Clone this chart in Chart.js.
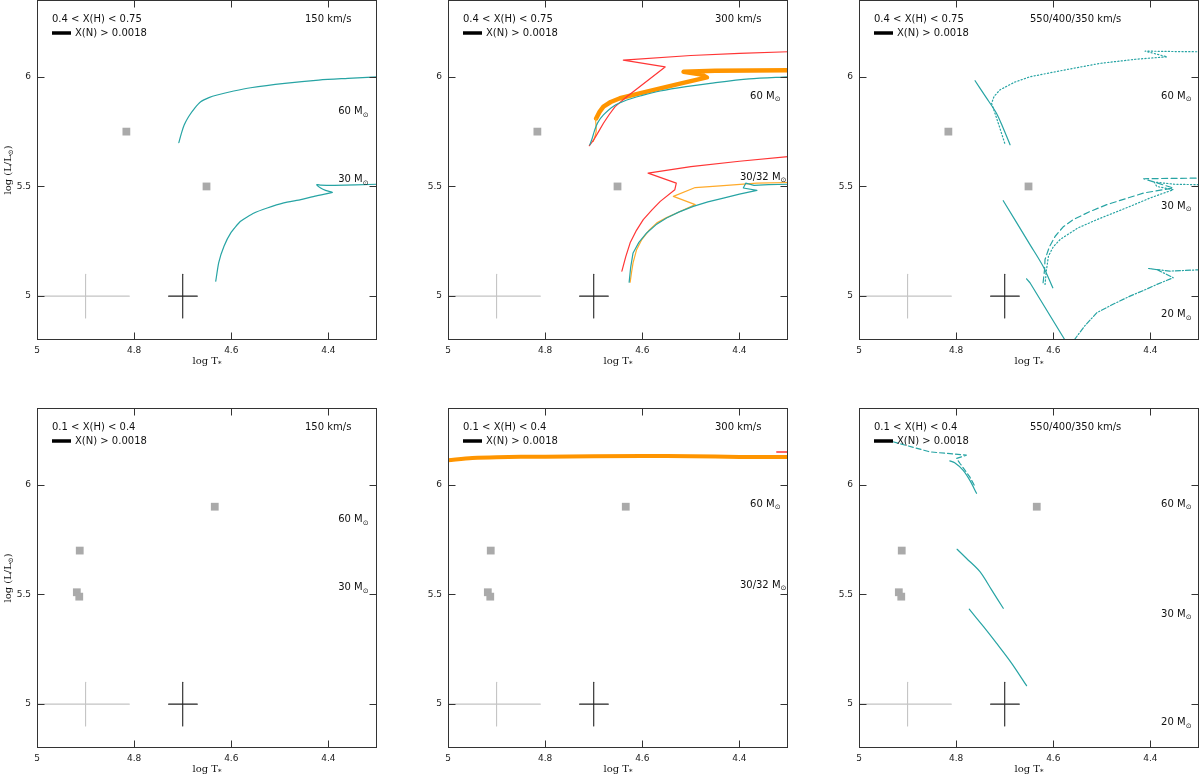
<!DOCTYPE html>
<html>
<head>
<meta charset="utf-8">
<script src="https://cdn.jsdelivr.net/npm/chart.js@4.4.1/dist/chart.umd.min.js"></script>
<style>
  html, body { margin: 0; padding: 0; background: #fff; overflow: hidden; width: 1200px; height: 774px; }
  canvas { position: absolute; }
</style>
</head>
<body>
<canvas id="p0" width="385" height="404"></canvas>
<canvas id="p1" width="385" height="404"></canvas>
<canvas id="p2" width="385" height="404"></canvas>
<canvas id="p3" width="385" height="404"></canvas>
<canvas id="p4" width="385" height="404"></canvas>
<canvas id="p5" width="385" height="404"></canvas>
<script>
"use strict";

// axis labels
const tempTickValues = [5, 4.8, 4.6, 4.4];
const tempTickLabels = ['5', '4.8', '4.6', '4.4'];
const lumTickValues = [5, 5.5, 6];
const lumTickLabels = ['5', '5.5', '6'];

// observed stars  [log T, log L]
const starsRich = [[4.816, 5.75], [4.651, 5.50]];
const starsPoor = [[4.634, 5.90], [4.912, 5.70], [4.918, 5.51], [4.913, 5.49]];

// error crosses
const errCentre = [[4.9, 5.0], [4.7, 5.0]];
const errTspan = [[5.0, 4.81], [4.729, 4.67]];
const errLspan = [[4.9, 5.1], [4.9, 5.1]];

// 150 km/s tracks
const t150m60 = [[4.708, 5.70], [4.703, 5.74], [4.697, 5.78], [4.688, 5.818], [4.676, 5.855], [4.663, 5.886],
  [4.646, 5.905], [4.629, 5.917], [4.595, 5.935], [4.56, 5.95], [4.49, 5.97], [4.42, 5.985], [4.36, 5.993], [4.3, 6.0]];
const t150m30 = [[4.632, 5.068], [4.626, 5.152], [4.615, 5.227], [4.601, 5.288], [4.581, 5.341], [4.553, 5.379],
  [4.526, 5.402], [4.492, 5.425], [4.457, 5.44], [4.423, 5.458], [4.392, 5.473], [4.406, 5.482], [4.416, 5.493],
  [4.424, 5.508], [4.416, 5.506], [4.388, 5.505], [4.3, 5.51]];

// 300 km/s tracks, 0.4 < X(H) < 0.75
const t300m60teal = [[4.708, 5.69], [4.703, 5.72], [4.699, 5.75], [4.692, 5.79], [4.680, 5.826], [4.66, 5.865],
  [4.632, 5.894], [4.6, 5.915], [4.563, 5.935], [4.51, 5.955], [4.46, 5.97], [4.38, 5.99], [4.3, 6.0]];
const t300m60red = [[4.709, 5.686], [4.70, 5.712], [4.69, 5.75], [4.680, 5.788], [4.668, 5.828], [4.656, 5.864],
  [4.632, 5.909], [4.553, 6.045], [4.639, 6.076], [4.5, 6.097], [4.4, 6.107], [4.3, 6.114]];
const t300m60orange = [[4.701, 5.705], [4.695, 5.75], [4.696, 5.803], [4.695, 5.81]];
const t300m60nitro = [[4.695, 5.81], [4.688, 5.84], [4.68, 5.864], [4.665, 5.885], [4.646, 5.902], [4.61, 5.922],
  [4.563, 5.947], [4.52, 5.97], [4.467, 5.997], [4.478, 6.01], [4.515, 6.023], [4.45, 6.027], [4.3, 6.03]];
const t300m30red = [[4.642, 5.114], [4.634, 5.18], [4.625, 5.243], [4.612, 5.30], [4.598, 5.349], [4.58, 5.393],
  [4.563, 5.432], [4.533, 5.485], [4.530, 5.515], [4.588, 5.561], [4.5, 5.59], [4.4, 5.615], [4.3, 5.636]];
const t300m32orange = [[4.625, 5.064], [4.622, 5.11], [4.619, 5.152], [4.612, 5.21], [4.601, 5.258],
  [4.587, 5.298], [4.570, 5.334], [4.55, 5.358], [4.529, 5.379], [4.51, 5.398], [4.491, 5.417], [4.536, 5.455],
  [4.491, 5.495], [4.44, 5.503], [4.364, 5.515], [4.3, 5.518]];
const t300m30teal = [[4.627, 5.064], [4.624, 5.13], [4.619, 5.197], [4.607, 5.245], [4.591, 5.288], [4.572, 5.325],
  [4.55, 5.356], [4.525, 5.383], [4.495, 5.409], [4.465, 5.43], [4.433, 5.447], [4.40, 5.465], [4.364, 5.482],
  [4.392, 5.493], [4.387, 5.515], [4.37, 5.505], [4.34, 5.508], [4.3, 5.51]];

// 550/400/350 km/s tracks, 0.4 < X(H) < 0.75
const tFastM60solid = [[4.761, 5.982], [4.739, 5.908], [4.717, 5.834], [4.703, 5.765], [4.689, 5.69]];
const tFastM60dot = [[4.70, 5.697], [4.712, 5.78], [4.727, 5.879], [4.722, 5.91], [4.71, 5.94], [4.68, 5.975],
  [4.648, 6.0], [4.579, 6.03], [4.504, 6.061], [4.43, 6.08], [4.366, 6.091], [4.411, 6.117], [4.35, 6.115], [4.3, 6.114]];
const tFastM30solid = [[4.703, 5.435], [4.648, 5.235], [4.621, 5.136], [4.601, 5.038]];
const tFastM30dash = [[4.621, 5.061], [4.618, 5.12], [4.617, 5.167], [4.608, 5.225], [4.596, 5.273], [4.58, 5.315],
  [4.559, 5.349], [4.525, 5.385], [4.49, 5.417], [4.45, 5.445], [4.414, 5.47], [4.353, 5.493], [4.414, 5.535],
  [4.35, 5.537], [4.3, 5.538]];
const tFastM30dot = [[4.617, 5.053], [4.614, 5.12], [4.61, 5.182], [4.6, 5.225], [4.586, 5.258], [4.55, 5.31],
  [4.51, 5.349], [4.475, 5.38], [4.442, 5.409], [4.40, 5.448], [4.353, 5.485], [4.387, 5.50], [4.392, 5.52],
  [4.35, 5.51], [4.3, 5.508]];
const tFastM20solid = [[4.655, 5.079], [4.648, 5.061], [4.576, 4.80]];
const tFastM20dashdot = [[4.557, 4.80], [4.535, 4.865], [4.51, 4.925], [4.475, 4.965], [4.442, 5.0], [4.41, 5.03],
  [4.387, 5.053], [4.353, 5.084], [4.373, 5.106], [4.387, 5.121], [4.404, 5.126], [4.36, 5.114], [4.3, 5.12]];

// 0.1 < X(H) < 0.4
const t300m60nitroPoor = [[5.0, 6.112], [4.95, 6.122], [4.9, 6.126], [4.8, 6.128], [4.6, 6.131], [4.5, 6.13],
  [4.4, 6.127], [4.3, 6.127]];
const t300m60redPoor = [[4.323, 6.149], [4.3, 6.149]];
const tFastM60dashPoor = [[4.93, 6.196], [4.854, 6.15], [4.779, 6.135], [4.799, 6.12], [4.792, 6.097],
  [4.772, 6.036], [4.761, 5.991]];
const tFastM60solidPoor = [[4.813, 6.109], [4.803, 6.10], [4.786, 6.067], [4.772, 6.021], [4.758, 5.961]];
const tFastM30solidPoor = [[4.798, 5.706], [4.779, 5.665], [4.751, 5.604], [4.727, 5.521], [4.703, 5.437]];
const tFastM20solidPoor = [[4.773, 5.433], [4.744, 5.354], [4.717, 5.278], [4.686, 5.187], [4.655, 5.084]];

const TEAL = '#27a4a4';
const RED = '#ff3535';
const ORANGE = '#ffaa2a';
const ORANGE_N = '#ff9500';
const FONT = 'DejaVu Sans';
const DOT = [1.2, 2.2];

function track(pts, color, width, dash, tension) {
  return {
    data: pts.map(([x, y]) => ({ x, y })),
    showLine: true, borderColor: color, borderWidth: width, borderDash: dash || [],
    pointRadius: 0, tension: tension === undefined ? 0.3 : tension, fill: false,
    borderCapStyle: 'round', borderJoinStyle: 'round'
  };
}

function stars(pts) {
  return {
    data: pts.map(([x, y]) => ({ x, y })),
    showLine: false, pointStyle: 'rect', pointRadius: 5.5,
    backgroundColor: '#aaaaaa', borderWidth: 0
  };
}

function crosses() {
  const out = [];
  errCentre.forEach(([t, l], i) => {
    const col = i === 0 ? '#c4c4c4' : '#222222';
    out.push(track([[errTspan[i][0], l], [errTspan[i][1], l]], col, 1.1, [], 0));
    out.push(track([[t, errLspan[i][0]], [t, errLspan[i][1]]], col, 1.1, [], 0));
  });
  return out;
}

const massA = [['60', 4.38, 5.84], ['30', 4.38, 5.53]];
const massB = [['60', 4.378, 5.91], ['30/32', 4.399, 5.54]];
const massC = [['60', 4.378, 5.91], ['30', 4.378, 5.41], ['20', 4.378, 4.915]];

const panels = [
  { row: 0, col: 0, comp: '0.4 < X(H) < 0.75', speed: '150 km/s', speedDx: 268, yTitle: true, masses: massA,
    datasets: [track(t150m60, TEAL, 1.2), track(t150m30, TEAL, 1.2, [], 0.15), stars(starsRich)] },
  { row: 0, col: 1, comp: '0.4 < X(H) < 0.75', speed: '300 km/s', speedDx: 267, yTitle: false, masses: massB,
    datasets: [track(t300m60teal, TEAL, 1.2), track(t300m60red, RED, 1.2, [], 0),
      track(t300m60orange, ORANGE, 1.2), track(t300m60nitro, ORANGE_N, 4.5, [], 0),
      track(t300m30teal, TEAL, 1.2, [], 0), track(t300m30red, RED, 1.2, [], 0),
      track(t300m32orange, ORANGE, 1.2, [], 0), stars(starsRich)] },
  { row: 0, col: 2, comp: '0.4 < X(H) < 0.75', speed: '550/400/350 km/s', speedDx: 171, yTitle: false, masses: massC,
    datasets: [track(tFastM60solid, TEAL, 1.2), track(tFastM60dot, TEAL, 1.2, DOT, 0),
      track(tFastM30solid, TEAL, 1.2), track(tFastM30dash, TEAL, 1.2, [6, 3.5], 0),
      track(tFastM30dot, TEAL, 1.2, DOT, 0),
      track(tFastM20solid, TEAL, 1.2, [], 0), track(tFastM20dashdot, TEAL, 1.2, [5, 2, 1.2, 2], 0),
      stars(starsRich)] },
  { row: 1, col: 0, comp: '0.1 < X(H) < 0.4', speed: '150 km/s', speedDx: 268, yTitle: true, masses: massA,
    datasets: [stars(starsPoor)] },
  { row: 1, col: 1, comp: '0.1 < X(H) < 0.4', speed: '300 km/s', speedDx: 267, yTitle: false, masses: massB,
    datasets: [track(t300m60redPoor, RED, 1.5, [], 0), track(t300m60nitroPoor, ORANGE_N, 4),
      stars(starsPoor)] },
  { row: 1, col: 2, comp: '0.1 < X(H) < 0.4', speed: '550/400/350 km/s', speedDx: 171, yTitle: false, masses: massC,
    datasets: [track(tFastM60solidPoor, TEAL, 1.2), track(tFastM60dashPoor, TEAL, 1.2, [5, 3], 0),
      track(tFastM30solidPoor, TEAL, 1.2), track(tFastM20solidPoor, TEAL, 1.2),
      stars(starsPoor)] }
];

// where each plot frame sits on the page
const frameLeft = [37, 448, 859];
const frameTop = [0, 408];

function labelFor(v, values, labels) {
  const i = values.findIndex(t => Math.abs(t - v) < 1e-6);
  return i < 0 ? null : labels[i];
}

// text with subscripts: parts = [[text, isSub], ...]
function richText(ctx, parts, x, y, size, family) {
  let cx = x;
  parts.forEach(([txt, sub]) => {
    ctx.font = (sub ? size * 0.7 : size) + 'px "' + family + '"';
    ctx.fillText(txt, cx, sub ? y + size * 0.3 : y);
    cx += ctx.measureText(txt).width;
  });
}
function richWidth(ctx, parts, size, family) {
  let w = 0;
  parts.forEach(([txt, sub]) => {
    ctx.font = (sub ? size * 0.7 : size) + 'px "' + family + '"';
    w += ctx.measureText(txt).width;
  });
  return w;
}

const panelDecor = {
  id: 'panelDecor',
  afterDraw(chart, args, opts) {
    const p = opts.panel;
    const { ctx, chartArea: a } = chart;
    const xs = chart.scales.x, ys = chart.scales.y;
    const L = Math.round(a.left) + 0.5, R = Math.round(a.right) - 0.5;
    const T = Math.round(a.top) + 0.5, B = Math.round(a.bottom) - 0.5;
    ctx.save();
    ctx.strokeStyle = '#333';
    ctx.lineWidth = 1;
    ctx.strokeRect(L, T, R - L, B - T);
    ctx.beginPath();
    xs.ticks.forEach(t => {
      const px = Math.round(xs.getPixelForValue(t.value)) + 0.5;
      const len = t.label ? 7 : 4;
      ctx.moveTo(px, B); ctx.lineTo(px, B - len);
      ctx.moveTo(px, T); ctx.lineTo(px, T + len);
    });
    ys.ticks.forEach(t => {
      const py = Math.round(ys.getPixelForValue(t.value)) + 0.5;
      const len = t.label ? 7 : 4;
      ctx.moveTo(L, py); ctx.lineTo(L + len, py);
      ctx.moveTo(R, py); ctx.lineTo(R - len, py);
    });
    ctx.stroke();

    ctx.fillStyle = '#111';
    ctx.textBaseline = 'middle';
    ctx.textAlign = 'left';
    ctx.font = '10px "' + FONT + '"';
    ctx.fillText(p.comp, a.left + 15, a.top + 19);
    ctx.fillText('X(N) > 0.0018', a.left + 38, a.top + 33);
    ctx.fillText(p.speed, a.left + p.speedDx, a.top + 19);
    ctx.strokeStyle = '#000';
    ctx.lineWidth = 3.5;
    ctx.beginPath();
    ctx.moveTo(a.left + 15, a.top + 33);
    ctx.lineTo(a.left + 34, a.top + 33);
    ctx.stroke();

    p.masses.forEach(([m, t, l]) => {
      richText(ctx, [[m + ' M', false], ['\u2299', true]], xs.getPixelForValue(t), ys.getPixelForValue(l), 10, FONT);
    });

    // axis titles
    const xt = [['log T', false], ['*', true]];
    const xw = richWidth(ctx, xt, 10, 'DejaVu Serif');
    richText(ctx, xt, (a.left + a.right) / 2 - xw / 2, a.bottom + 21, 10, 'DejaVu Serif');
    if (p.yTitle) {
      const yt = [['log (L/L', false], ['\u2299', true], [')', false]];
      const yw = richWidth(ctx, yt, 10, 'DejaVu Serif');
      ctx.translate(a.left - 29, (a.top + a.bottom) / 2);
      ctx.rotate(-Math.PI / 2);
      richText(ctx, yt, -yw / 2, 0, 10, 'DejaVu Serif');
    }
    ctx.restore();
  }
};

panels.forEach((p, i) => {
  const canvas = document.getElementById('p' + i);
  const ds = p.datasets.concat(crosses());
  // eslint-disable-next-line no-undef
  const chart = new Chart(canvas, {
    type: 'scatter',
    data: { datasets: ds },
    plugins: [panelDecor],
    options: {
      responsive: false,
      maintainAspectRatio: false,
      animation: false,
      devicePixelRatio: 1,
      layout: { padding: { left: 0, top: 20, right: 8, bottom: 14 } },
      plugins: {
        legend: { display: false },
        tooltip: { enabled: false },
        panelDecor: { panel: p }
      },
      scales: {
        x: {
          type: 'linear', reverse: true, min: 4.3, max: 5,
          afterBuildTicks: s => {
            const ticks = [];
            for (let k = 86; k <= 100; k++) ticks.push({ value: k / 20 });
            s.ticks = ticks;
          },
          afterFit: s => { s.height = 30; },
          grid: { display: false, drawTicks: false },
          border: { display: false },
          ticks: {
            padding: 5, color: '#222', autoSkip: false, maxRotation: 0,
            font: { family: FONT, size: 9 },
            callback: v => labelFor(v, tempTickValues, tempTickLabels)
          }
        },
        y: {
          type: 'linear', min: 4.8, max: 6.35,
          afterBuildTicks: s => {
            const ticks = [];
            for (let k = 48; k <= 63; k++) ticks.push({ value: k / 10 });
            s.ticks = ticks;
          },
          afterFit: s => { s.width = 37; },
          grid: { display: false, drawTicks: false },
          border: { display: false },
          ticks: {
            padding: 6, color: '#222', autoSkip: false,
            font: { family: FONT, size: 9 },
            callback: v => labelFor(v, lumTickValues, lumTickLabels)
          }
        }
      }
    }
  });
  const a = chart.chartArea;
  canvas.style.left = (frameLeft[p.col] - a.left) + 'px';
  canvas.style.top = (frameTop[p.row] - a.top) + 'px';
});
</script>
</body>
</html>
